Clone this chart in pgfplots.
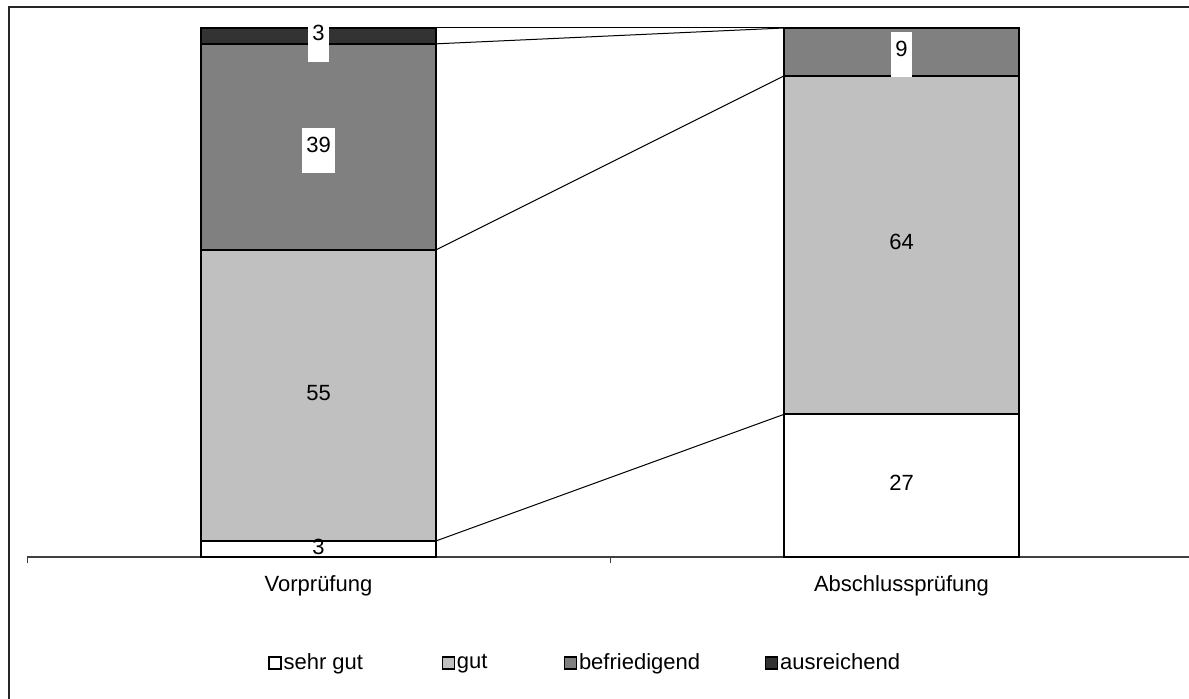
\documentclass[border=0pt]{standalone}
\usepackage{fontspec}
\setmainfont{Liberation Sans}
\usepackage{pgfplots}
\pgfplotsset{compat=1.18}
\definecolor{cgut}{HTML}{C0C0C0}
\definecolor{cbef}{HTML}{808080}
\definecolor{caus}{HTML}{333333}
\newcommand\lf{\fontsize{11}{13}\selectfont}
\begin{document}
\lf
\begin{tikzpicture}
\useasboundingbox (0,0) rectangle (594.5pt,349.5pt);
\draw[black!85, line width=0.8pt] (4.5pt,-2pt) -- (4.5pt,346pt) -- (600pt,346pt);
\pgfplotsset{base/.style={width=583pt,height=264.5pt,scale only axis,
  xmin=-0.5,xmax=1.5,ymin=0,ymax=100, at={(13.5pt,71pt)}, anchor=south west, clip=false}}
\begin{axis}[base, ybar stacked, bar width=0.4014,
  axis x line*=bottom, axis y line=none,
  xtick={-0.5,0.5,1.5}, xticklabels={}, tick align=outside, major tick length=3pt,
  tick style={black!75, line width=0.5pt},
  axis line style={black!75, line width=0.6pt},
  extra x ticks={0,1}, extra x tick labels={Vorprüfung,Abschlussprüfung},
  extra x tick style={major tick length=0pt, tick label style={anchor=base, yshift=-17.5pt, font=\lf}},
  legend columns=4,
  legend image code/.code={\draw[#1, line width=0.6pt] (0pt,-3pt) rectangle (6pt,3pt);},
  legend style={at={(0.2067,-0.2004)}, anchor=west, draw=none, fill=none, inner sep=0pt,
    column sep=0pt, font=\lf, nodes={inner sep=0pt},
    /tikz/every odd column/.append style={column sep=1pt}},
  legend cell align=left,
]
\addplot[draw=black, line width=1pt, fill=white] coordinates {(0,3) (1,27)};
\addplot[draw=black, line width=1pt, fill=cgut] coordinates {(0,55) (1,64)};
\addplot[draw=black, line width=1pt, fill=cbef] coordinates {(0,39) (1,9)};
\addplot[draw=black, line width=1pt, fill=caus] coordinates {(0,3) (1,0)};
\legend{\makebox[79pt][l]{sehr gut},\makebox[53.5pt][l]{gut},\makebox[93pt][l]{befriedigend},ausreichend}
\end{axis}
\begin{axis}[base, hide axis]
\addplot[black, line width=0.5pt] coordinates {(0.2007,3) (0.7993,27)};
\addplot[black, line width=0.5pt] coordinates {(0.2007,58) (0.7993,91)};
\addplot[black, line width=0.5pt] coordinates {(0.2007,97) (0.7993,100)};
\addplot[black, line width=0.5pt] coordinates {(0.2007,100) (0.7993,100)};
\addplot[draw=none, mark=none, nodes near coords, point meta=explicit symbolic,
  every node near coord/.style={anchor=base, yshift=-2.5pt, inner xsep=2.3pt, inner ysep=0pt,
    text height=12.2pt, text depth=10.3pt, font=\lf, fill=white}]
  coordinates {(0,77.5)[39] (0,98.5)[3] (1,95.5)[9]};
\addplot[draw=none, mark=none, nodes near coords, point meta=explicit symbolic,
  every node near coord/.style={anchor=base, yshift=-2.5pt, inner sep=0pt, font=\lf}]
  coordinates {(0,1.5)[3] (0,30.5)[55] (1,13.5)[27] (1,59)[64]};
\end{axis}
\end{tikzpicture}
\end{document}
